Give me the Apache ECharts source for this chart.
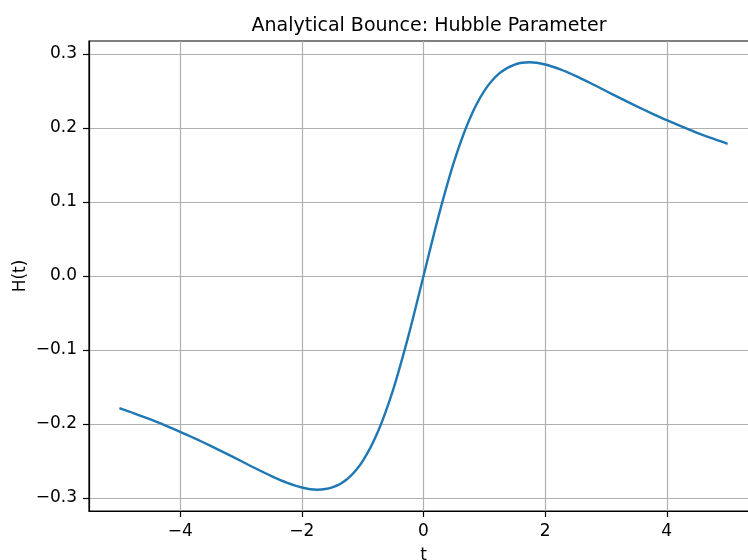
<!DOCTYPE html>
<html>
<head>
<meta charset="utf-8">
<script src="https://cdn.jsdelivr.net/npm/echarts@6/dist/echarts.min.js"></script>
<style>
  html, body { margin: 0; padding: 0; background: #fff; }
  #chart { width: 748px; height: 560px; }
</style>
</head>
<body>
<div id="chart"></div>
<script>
// t samples and H(t)
const tValues = [-5, -4.75, -4.5, -4.25, -4, -3.75, -3.5, -3.25, -3, -2.75, -2.5, -2.25, -2, -1.75, -1.5, -1.25, -1, -0.75, -0.5, -0.25,
  0, 0.25, 0.5, 0.75, 1, 1.25, 1.5, 1.75, 2, 2.25, 2.5, 2.75, 3, 3.25, 3.5, 3.75, 4, 4.25, 4.5, 4.75, 5];
const hValues = [-0.1786, -0.1858, -0.1935, -0.2018, -0.2105, -0.2198, -0.2295, -0.2396, -0.25, -0.2604, -0.2703, -0.2791, -0.2857, -0.2887, -0.2857, -0.274, -0.25, -0.2105, -0.1538, -0.0816,
  0, 0.0816, 0.1538, 0.2105, 0.25, 0.274, 0.2857, 0.2887, 0.2857, 0.2791, 0.2703, 0.2604, 0.25, 0.2396, 0.2295, 0.2198, 0.2105, 0.2018, 0.1935, 0.1858, 0.1786];
const xTicks = [-4, -2, 0, 2, 4];
const yTicks = [-0.3, -0.2, -0.1, 0.0, 0.1, 0.2, 0.3];

const font = "DejaVu Sans";
const minus = (s) => s.replace("-", "\u2212");

const chart = echarts.init(document.getElementById("chart"));
chart.setOption({
  animation: false,
  title: {
    text: "Analytical Bounce: Hubble Parameter",
    left: 424,
    top: 12,
    textAlign: "center",
    textStyle: { fontFamily: font, fontSize: 19, fontWeight: "normal", color: "#000" },
  },
  grid: {
    left: 89,
    top: 41,
    width: 669,
    height: 470,
    outerBoundsMode: "none",
    containLabel: false,
    show: true,
    borderColor: "#000",
    borderWidth: 1.2,
  },
  xAxis: {
    type: "value",
    min: -5.5,
    max: 5.5,
    name: "t",
    nameLocation: "middle",
    nameGap: 36,
    nameMoveOverlap: false,
    nameTextStyle: { fontFamily: font, fontSize: 17, color: "#000" },
    axisLine: { onZero: false, lineStyle: { color: "#000", width: 1.2 } },
    axisTick: { show: true, customValues: xTicks, length: 6, lineStyle: { color: "#000", width: 1.2 } },
    axisLabel: {
      customValues: xTicks,
      margin: 12,
      fontFamily: font,
      fontSize: 17,
      color: "#000",
      formatter: (v) => minus(String(v)),
    },
    splitLine: { show: true, lineStyle: { color: "#b0b0b0", width: 1.2 } },
  },
  yAxis: {
    type: "value",
    min: -0.3175,
    max: 0.3175,
    name: "H(t)",
    nameLocation: "middle",
    nameRotate: 90,
    nameGap: 60,
    nameMoveOverlap: false,
    nameTextStyle: { fontFamily: font, fontSize: 17, color: "#000" },
    axisLine: { show: true, onZero: false, lineStyle: { color: "#000", width: 1.2 } },
    axisTick: { show: true, customValues: yTicks, length: 6, lineStyle: { color: "#000", width: 1.2 } },
    axisLabel: {
      customValues: yTicks,
      margin: 12,
      fontFamily: font,
      fontSize: 17,
      color: "#000",
      formatter: (v) => minus(v.toFixed(1)),
    },
    splitLine: { show: true, lineStyle: { color: "#b0b0b0", width: 1.2 } },
  },
  series: [
    {
      type: "line",
      data: tValues.map((t, i) => [t, hValues[i]]),
      smooth: 0.3,
      showSymbol: false,
      lineStyle: { color: "#1f77b4", width: 2.4 },
    },
  ],
});
</script>
</body>
</html>
